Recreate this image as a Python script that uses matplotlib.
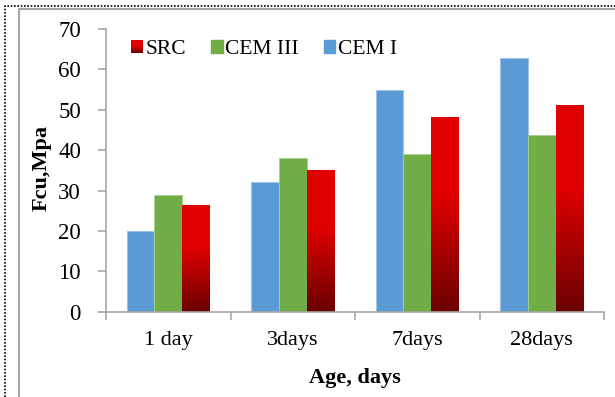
import numpy as np
import matplotlib
matplotlib.use('Agg')
import matplotlib.pyplot as plt
from matplotlib.colors import LinearSegmentedColormap
from matplotlib.legend_handler import HandlerBase
from matplotlib.patches import Rectangle, Patch
from matplotlib.lines import Line2D

plt.rcParams['font.family'] = ['Liberation Serif', 'DejaVu Serif']

# Druckfestigkeit (Fcu, MPa) nach Alter
ages = ['1 day', '3days', '7days', '28days']
cem1 = [20.0, 32.0, 54.8, 62.8]
cem3 = [28.8, 38.0, 39.0, 43.7]
src = [26.3, 35.1, 48.2, 51.1]

blue = '#5B9BD5'
green = '#70AD47'
src_cmap = LinearSegmentedColormap.from_list(
    'src', [(0.0, '#6A0000'), (0.6, '#E00000'), (1.0, '#E00000')])


class GradientHandler(HandlerBase):
    # Legendensymbol mit Farbverlauf (oben hell, unten dunkel)
    def create_artists(self, legend, orig_handle, xdescent, ydescent,
                       width, height, fontsize, trans):
        n = 12
        arts = []
        for i in range(n):
            r = Rectangle((-xdescent, -ydescent + height * i / n), width, height / n + 0.3,
                          facecolor=src_cmap((i + 0.5) / n), edgecolor='none', transform=trans)
            arts.append(r)
        return arts


fig = plt.figure(figsize=(6.15, 3.97), dpi=100)
ax = fig.add_axes([106 / 615, 1 - 311.7 / 397, 498 / 615, 282.7 / 397])

x = np.arange(len(ages))
w = 0.222
ax.bar(x - w, cem1, w, color=blue, edgecolor='#9DC3E6', linewidth=0.8, zorder=2)
ax.bar(x, cem3, w, color=green, edgecolor='#A9D18E', linewidth=0.6, zorder=2)
src_bars = ax.bar(x + w, src, w, color='none', edgecolor='none', zorder=2)

grad = np.linspace(0, 1, 256).reshape(-1, 1)
for b in src_bars:
    x0 = b.get_x()
    ax.imshow(grad, cmap=src_cmap, origin='lower', aspect='auto', zorder=2,
              extent=(x0, x0 + b.get_width(), 0, b.get_height()))

ax.set_xlim(-0.5, 3.5)
ax.set_ylim(0, 70)
ax.set_yticks(range(0, 71, 10))
ax.set_xticks(x)
ax.set_xticklabels(ages, fontsize=16)
ax.set_xticks(np.arange(-0.5, 4, 1), minor=True)
ax.tick_params(axis='x', which='major', length=0, pad=14)
ax.tick_params(axis='x', which='minor', length=6, color='#A6A6A6', width=1.2)
ax.tick_params(axis='y', length=6, color='#A6A6A6', width=1.2, labelsize=16.5, pad=12)

for s in ['top', 'right']:
    ax.spines[s].set_visible(False)
for s in ['left', 'bottom']:
    ax.spines[s].set_color('#A6A6A6')
    ax.spines[s].set_linewidth(1.2)

ax.set_ylabel('Fcu,Mpa', fontsize=16, fontweight='bold')
ax.yaxis.set_label_coords(-0.11, 0.51)
ax.set_xlabel('Age, days', fontsize=16, fontweight='bold')
ax.xaxis.set_label_coords(0.5, -0.2)

handles = [Patch(), Patch(color=green), Patch(color=blue)]
ax.legend(handles, ['SRC', 'CEM III', 'CEM I'], handler_map={handles[0]: GradientHandler()},
          loc='center left', bbox_to_anchor=(0.05, 0.926), ncol=3, frameon=False,
          fontsize=15.5, handlelength=0.55, handleheight=0.55, handletextpad=0.12,
          columnspacing=1.15, borderpad=0, borderaxespad=0)

# Rahmen links und oben
fig.add_artist(Line2D([5 / 615, 5 / 615, 1], [0, 1 - 6 / 397, 1 - 6 / 397],
                      color='black', linestyle=(0, (1, 1)), linewidth=1.2))
fig.add_artist(Line2D([19 / 615, 19 / 615, 1], [0, 1 - 9 / 397, 1 - 9 / 397],
                      color='#A6A6A6', linewidth=1.5))

fig.savefig('out.png', dpi=100)
